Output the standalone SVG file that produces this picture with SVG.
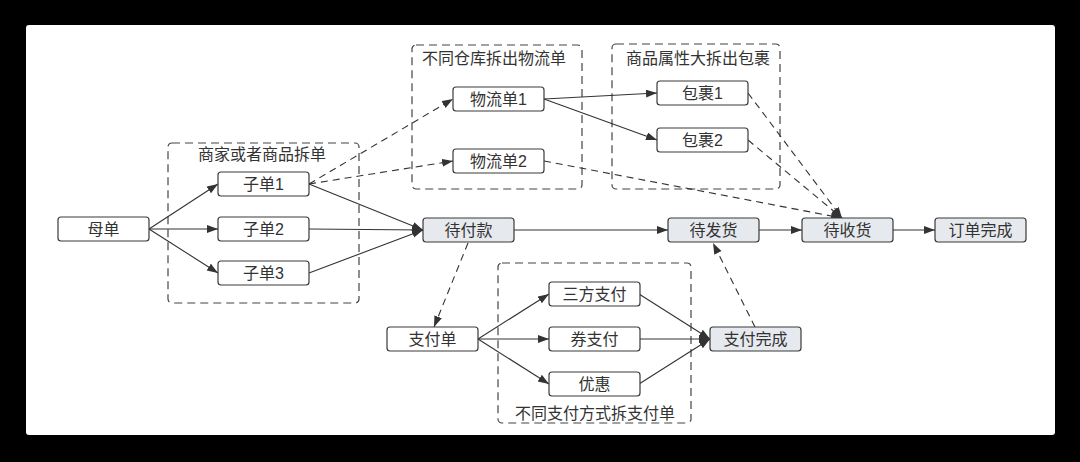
<svg xmlns="http://www.w3.org/2000/svg" width="1080" height="462" viewBox="0 0 1080 462">
<defs>
<style>
.n rect{stroke:#3a3a3a;stroke-width:1.2;fill:#fff}
.n.s rect{fill:#e6e9ee}
text{font-family:'Liberation Sans','Noto Sans CJK SC',sans-serif;font-size:16px;fill:#333;text-anchor:middle}
.g rect{fill:none;stroke:#444;stroke-width:1.2;stroke-dasharray:8 5}
#edges path{fill:none;stroke:#333;stroke-width:1.1;marker-end:url(#ah)}
#edges path.d{stroke-dasharray:7 5}
</style>
<marker id="ah" markerUnits="userSpaceOnUse" markerWidth="12" markerHeight="10" refX="11" refY="4" orient="auto">
<path d="M0,0 L11,4 L0,8 z" fill="#333"/>
</marker>
</defs>
<rect width="1080" height="462" fill="#000"/>
<rect x="26" y="25" width="1029" height="410" rx="3" fill="#fff"/>

<g id="group-merchant" class="g"><rect x="168" y="143" width="191" height="160" rx="4"/><text x="262" y="160">商家或者商品拆单</text></g>
<g id="group-warehouse" class="g"><rect x="412" y="45" width="170" height="144" rx="4"/><text x="494" y="64">不同仓库拆出物流单</text></g>
<g id="group-package" class="g"><rect x="612" y="44" width="168" height="145" rx="4"/><text x="698" y="64">商品属性大拆出包裹</text></g>
<g id="group-pay" class="g"><rect x="498" y="263" width="193" height="160" rx="4"/><text x="595" y="419">不同支付方式拆支付单</text></g>

<g id="edges">
<path d="M149,229 L218,184"/>
<path d="M149,229 L218,229"/>
<path d="M149,229 L218,273"/>
<path d="M309,184 L423,230"/>
<path d="M309,229 L423,230"/>
<path d="M309,273 L423,230"/>
<path class="d" d="M309,184 L453,99"/>
<path class="d" d="M309,184 L453,161"/>
<path d="M544,99 L657,93"/>
<path d="M544,99 L657,140"/>
<path class="d" d="M748,93 L842,218"/>
<path class="d" d="M748,140 L842,218"/>
<path class="d" d="M544,161 L842,218"/>
<path d="M514,230 L668,230"/>
<path d="M759,230 L802,230"/>
<path d="M892,230 L935,230"/>
<path class="d" d="M468,243 L434,327"/>
<path d="M478,339 L549,294"/>
<path d="M478,339 L549,339"/>
<path d="M478,339 L549,384"/>
<path d="M639,294 L710,339"/>
<path d="M639,339 L710,339"/>
<path d="M639,384 L710,339"/>
<path class="d" d="M755,327 L713,243"/>
</g>

<g id="n-mother" class="n"><rect x="58" y="217" width="91" height="24" rx="3"/><text x="103.5" y="235">母单</text></g>
<g id="n-sub1" class="n"><rect x="218" y="172" width="91" height="24" rx="3"/><text x="263.5" y="190">子单1</text></g>
<g id="n-sub2" class="n"><rect x="218" y="217" width="91" height="24" rx="3"/><text x="263.5" y="235">子单2</text></g>
<g id="n-sub3" class="n"><rect x="218" y="261" width="91" height="24" rx="3"/><text x="263.5" y="279">子单3</text></g>
<g id="n-topay" class="n s"><rect x="423" y="218" width="91" height="24" rx="3"/><text x="468.5" y="236">待付款</text></g>
<g id="n-log1" class="n"><rect x="453" y="87" width="91" height="24" rx="3"/><text x="498.5" y="105">物流单1</text></g>
<g id="n-log2" class="n"><rect x="453" y="149" width="91" height="24" rx="3"/><text x="498.5" y="167">物流单2</text></g>
<g id="n-pkg1" class="n"><rect x="657" y="81" width="91" height="24" rx="3"/><text x="702.5" y="99">包裹1</text></g>
<g id="n-pkg2" class="n"><rect x="657" y="128" width="91" height="24" rx="3"/><text x="702.5" y="146">包裹2</text></g>
<g id="n-toship" class="n s"><rect x="668" y="218" width="91" height="24" rx="3"/><text x="713.5" y="236">待发货</text></g>
<g id="n-torecv" class="n s"><rect x="802" y="218" width="91" height="24" rx="3"/><text x="847.5" y="236">待收货</text></g>
<g id="n-done" class="n s"><rect x="935" y="218" width="91" height="24" rx="3"/><text x="980.5" y="236">订单完成</text></g>
<g id="n-payorder" class="n"><rect x="387" y="327" width="91" height="24" rx="3"/><text x="432.5" y="345">支付单</text></g>
<g id="n-third" class="n"><rect x="549" y="282" width="91" height="24" rx="3"/><text x="594.5" y="300">三方支付</text></g>
<g id="n-coupon" class="n"><rect x="549" y="327" width="91" height="24" rx="3"/><text x="594.5" y="345">券支付</text></g>
<g id="n-discount" class="n"><rect x="549" y="372" width="91" height="24" rx="3"/><text x="594.5" y="390">优惠</text></g>
<g id="n-paydone" class="n s"><rect x="710" y="327" width="91" height="24" rx="3"/><text x="755.5" y="345">支付完成</text></g>
</svg>
